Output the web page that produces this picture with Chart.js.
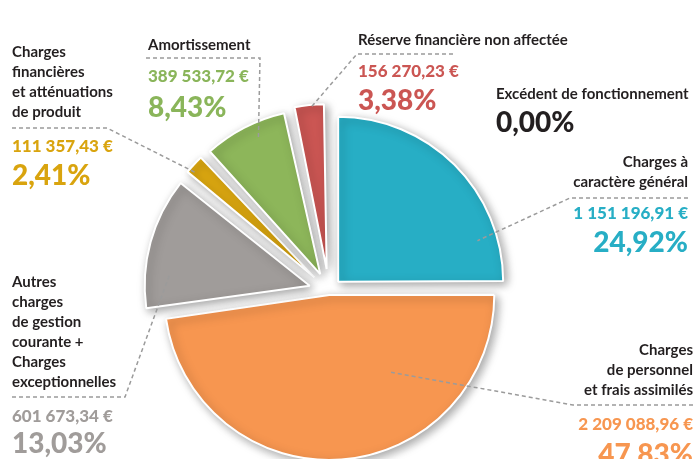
<!DOCTYPE html>
<html>
<head>
<meta charset="utf-8">
<script src="https://cdn.jsdelivr.net/npm/chart.js@4"></script>
<style>
  html, body { margin: 0; padding: 0; background: #fff; }
  #pieChart { display: block; }
</style>
</head>
<body>
<canvas id="pieChart" width="696" height="459"></canvas>
<script>
// data
const categories = [
    ["Charges à", "caractère général"],
    ["Charges", "de personnel", "et frais assimilés"],
    ["Autres", "charges", "de gestion", "courante +", "Charges", "exceptionnelles"],
    ["Charges", "financières", "et atténuations", "de produit"],
    ["Amortissement"],
    ["Réserve financière non affectée"],
    ["Excédent de fonctionnement"],
];
const amounts = [1151196.91, 2209088.96, 601673.34, 111357.43, 389533.72, 156270.23, 0];
const percents = [24.92, 47.83, 13.03, 2.41, 8.43, 3.38, 0.00];

const sliceColors = ["#27aec5", "#f79650", "#a09c9a", "#dba710", "#8db65a", "#cb5653", "#231f20"];
const textColors = ["#27aec5", "#f79650", "#a09c9a", "#d9a40e", "#8ab55a", "#cb5653", "#231f20"];
const explode = [52, 16, 80, 80, 76, 88, 0];

// label placement: x, align, first name baseline, value baseline, % baseline,
// dashed rule [from x, elbow x, y], anchor in slice [angle fraction, radius fraction]
const labelPos = [
    { x: 688, align: "right", name: 167, value: 219, pct: 252, rule: [688, 570, 198], anchor: [0.82, 0.88] },
    { x: 693, align: "right", name: 355, value: 430, pct: 464, rule: [693, 573, 405], anchor: [0.30, 0.60] },
    { x: 12, align: "left", name: 287, value: 422, pct: 453, rule: [12, 125, 397], anchor: [0.28, 0.85] },
    { x: 12, align: "left", name: 57, value: 152, pct: 185, rule: [12, 107, 128], anchor: [0.30, 0.96] },
    { x: 148, align: "left", name: 50, value: 82, pct: 117, rule: [146, 260, 58], anchor: [0.60, 0.91] },
    { x: 358, align: "left", name: 45, value: 77, pct: 110, rule: [453, 357, 54], anchor: [0.52, 0.98] },
    { x: 496, align: "left", name: 99, value: null, pct: 132, rule: null, anchor: null },
];

const FONT = "Lato, 'Open Sans', sans-serif";

function euro(v) {
    let parts = v.toFixed(2).split(".");
    parts[0] = parts[0].replace(/\B(?=(\d{3})+(?!\d))/g, " ");
    return parts.join(",") + " €";
}
function pct(p) {
    return p.toFixed(2).replace(".", ",") + "%";
}

// keep every exploded slice at the same radius
const sameRadius = {
    id: "sameRadius",
    beforeDatasetsDraw(chart) {
        const meta = chart.getDatasetMeta(0);
        const R = meta.controller.outerRadius;
        meta.data.forEach(function (el) {
            const t = (el.options.offset || 0) / 4;
            const fix = 1 - Math.sin(Math.min(Math.PI, el.circumference));
            el.outerRadius = R - t * fix;
        });
    },
};

const softShadow = {
    id: "softShadow",
    beforeDatasetDraw(chart) {
        const ctx = chart.ctx;
        ctx.save();
        ctx.shadowColor = "rgba(0,0,0,0.35)";
        ctx.shadowBlur = 10;
        ctx.shadowOffsetX = 3;
        ctx.shadowOffsetY = 3;
    },
    afterDatasetDraw(chart) {
        chart.ctx.restore();
    },
};

const calloutLabels = {
    id: "calloutLabels",
    afterDraw(chart) {
        const ctx = chart.ctx;
        const meta = chart.getDatasetMeta(0);
        const R = meta.controller.outerRadius;
        ctx.save();
        labelPos.forEach(function (lp, i) {
            const el = meta.data[i];
            // leader line
            if (lp.rule) {
                const t = explode[i] / 4;
                const mid = (el.startAngle + el.endAngle) / 2;
                const a = el.startAngle + lp.anchor[0] * (el.endAngle - el.startAngle);
                const ax = el.x + Math.cos(mid) * t + Math.cos(a) * lp.anchor[1] * R;
                const ay = el.y + Math.sin(mid) * t + Math.sin(a) * lp.anchor[1] * R;
                ctx.beginPath();
                ctx.setLineDash([4, 3]);
                ctx.lineWidth = 1.5;
                ctx.strokeStyle = "#9b9b9b";
                ctx.moveTo(lp.rule[0], lp.rule[2]);
                ctx.lineTo(lp.rule[1], lp.rule[2]);
                ctx.lineTo(ax, ay);
                ctx.stroke();
                ctx.setLineDash([]);
            }
            ctx.textAlign = lp.align;
            ctx.textBaseline = "alphabetic";
            ctx.fillStyle = "#231f20";
            ctx.font = "bold 15px " + FONT;
            categories[i].forEach(function (line, k) {
                ctx.fillText(line, lp.x, lp.name + k * 20);
            });
            ctx.fillStyle = textColors[i];
            if (lp.value !== null) {
                ctx.font = "900 17px " + FONT;
                ctx.fillText(euro(amounts[i]), lp.x, lp.value);
            }
            ctx.font = "900 28px " + FONT;
            ctx.fillText(pct(percents[i]), lp.x, lp.pct);
        });
        ctx.restore();
    },
};

const canvas = document.getElementById("pieChart");
canvas.chart = new Chart(canvas.getContext("2d"), {
    type: "pie",
    data: {
        labels: categories.map(function (c) { return c.join(" "); }),
        datasets: [{
            data: amounts,
            backgroundColor: sliceColors,
            borderColor: "#ffffff",
            borderWidth: 2,
            offset: explode,
        }],
    },
    options: {
        responsive: false,
        animation: false,
        radius: 165,
        layout: { padding: { left: 0, right: 38, top: 123, bottom: 0 } },
        plugins: {
            legend: { display: false },
            tooltip: { enabled: false },
        },
    },
    plugins: [sameRadius, softShadow, calloutLabels],
});
</script>
</body>
</html>
